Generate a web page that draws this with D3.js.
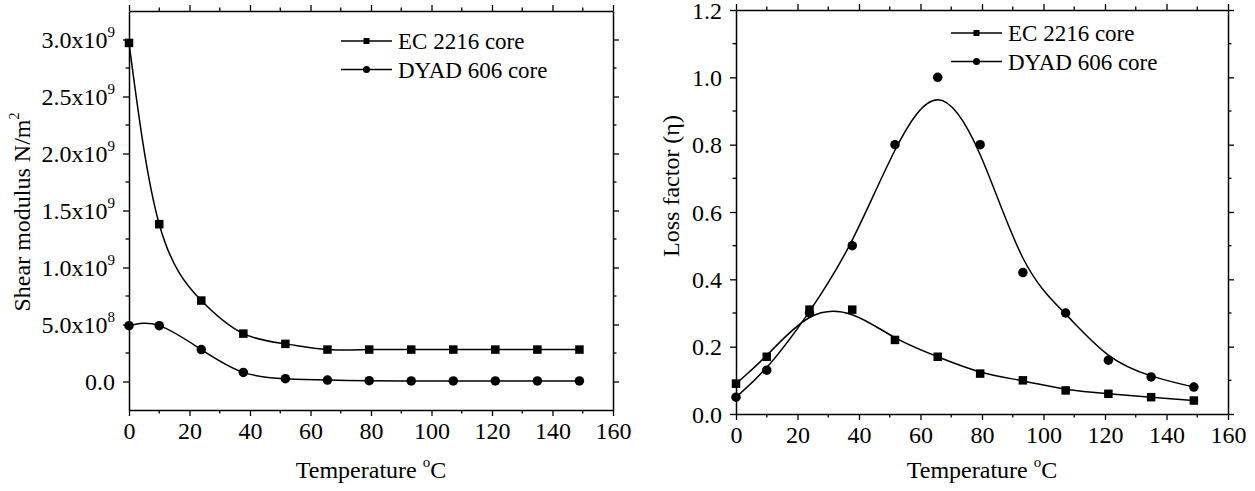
<!DOCTYPE html>
<html>
<head>
<meta charset="utf-8">
<script src="https://cdn.jsdelivr.net/npm/d3@7"></script>
<style>
  html, body { margin: 0; padding: 0; background: #fff; }
  svg { display: block; }
  text { font-family: "Liberation Serif", "Times New Roman", serif; fill: #000; }
</style>
</head>
<body>
<svg id="chart" width="1255" height="491"></svg>
<script>
// Temperatures (°C) at which both cores were measured
const temps = [0, 10, 23.9, 37.8, 51.7, 65.6, 79.4, 93.3, 107.2, 121.1, 135, 148.9];

// Shear modulus (N/m²)
const shearEC   = [2.97e9, 1.38e9, 0.71e9, 0.42e9, 0.33e9, 0.28e9, 0.28e9, 0.28e9, 0.28e9, 0.28e9, 0.28e9, 0.28e9];
const shearDYAD = [0.49e9, 0.49e9, 0.28e9, 0.08e9, 0.025e9, 0.013e9, 0.007e9, 0.005e9, 0.005e9, 0.005e9, 0.005e9, 0.005e9];

// Loss factor (η)
const lossEC   = [0.09, 0.17, 0.31, 0.31, 0.22, 0.17, 0.12, 0.10, 0.07, 0.06, 0.05, 0.04];
const lossDYAD = [0.05, 0.13, 0.30, 0.50, 0.80, 1.00, 0.80, 0.42, 0.30, 0.16, 0.11, 0.08];

const seriesNames = ["EC 2216 core", "DYAD 606 core"];
const markerShapes = ["square", "circle"];

// Tick values and labels
const xTicks = [0, 20, 40, 60, 80, 100, 120, 140, 160];
const shearTicks = [0, 0.5e9, 1.0e9, 1.5e9, 2.0e9, 2.5e9, 3.0e9];
const shearTickLabels = [["0.0", ""], ["5.0x10", "8"], ["1.0x10", "9"], ["1.5x10", "9"], ["2.0x10", "9"], ["2.5x10", "9"], ["3.0x10", "9"]];
const lossTicks = [0, 0.2, 0.4, 0.6, 0.8, 1.0, 1.2];
const lossTickLabels = ["0.0", "0.2", "0.4", "0.6", "0.8", "1.0", "1.2"];

const svg = d3.select("#chart");

function drawMarker(g, shape, x, y, size) {
  if (shape === "square") {
    g.append("rect")
      .attr("x", x - size / 2).attr("y", y - size / 2)
      .attr("width", size).attr("height", size)
      .attr("fill", "#000");
  } else {
    g.append("circle")
      .attr("cx", x).attr("cy", y).attr("r", size / 2 + 0.5)
      .attr("fill", "#000");
  }
}

function styleAxis(g) {
  g.select(".domain").attr("stroke", "#000").attr("stroke-width", 1.5);
  g.selectAll(".tick line").attr("stroke", "#000").attr("stroke-width", 1.3);
}

function panel(cfg) {
  const { left, right, top, bottom } = cfg.box;
  const x = d3.scaleLinear().domain([0, 160]).range([left, right]);
  const y = d3.scaleLinear().domain(cfg.yDomain).range([bottom, top]);
  const g = svg.append("g");

  const xMinor = d3.range(0, 161, 10).filter(v => v % 20 !== 0);
  const yMinor = cfg.yMinor;

  // minor ticks (outward on all four sides)
  const minorG = g.append("g");
  xMinor.forEach(v => {
    minorG.append("line").attr("x1", x(v)).attr("x2", x(v)).attr("y1", bottom).attr("y2", bottom + 3.5);
    minorG.append("line").attr("x1", x(v)).attr("x2", x(v)).attr("y1", top).attr("y2", top - 3.5);
  });
  yMinor.forEach(v => {
    minorG.append("line").attr("x1", left).attr("x2", left - 3.5).attr("y1", y(v)).attr("y2", y(v));
    minorG.append("line").attr("x1", right).attr("x2", right + 3.5).attr("y1", y(v)).attr("y2", y(v));
  });
  minorG.selectAll("line").attr("stroke", "#000").attr("stroke-width", 1.3);

  // bottom axis
  const gx = g.append("g").attr("transform", `translate(0,${bottom})`)
    .call(d3.axisBottom(x).tickValues(xTicks).tickSize(6).tickSizeOuter(0).tickPadding(6));
  styleAxis(gx);
  gx.selectAll("text").attr("font-size", 24).attr("font-family", "Liberation Serif, serif");

  // top and right frame axes, ticks without labels
  const gt = g.append("g").attr("transform", `translate(0,${top})`)
    .call(d3.axisTop(x).tickValues(xTicks).tickSize(6).tickSizeOuter(0).tickFormat(""));
  styleAxis(gt);
  const gr = g.append("g").attr("transform", `translate(${right},0)`)
    .call(d3.axisRight(y).tickValues(cfg.yTicks).tickSize(6).tickSizeOuter(0).tickFormat(""));
  styleAxis(gr);

  // left axis
  const gy = g.append("g").attr("transform", `translate(${left},0)`)
    .call(d3.axisLeft(y).tickValues(cfg.yTicks).tickSize(6).tickSizeOuter(0).tickPadding(8).tickFormat(""));
  styleAxis(gy);
  gy.selectAll(".tick text").each(function (d, i) {
    const t = d3.select(this).attr("font-size", 24).attr("font-family", "Liberation Serif, serif")
      .attr("dy", "0.34em");
    const lab = cfg.yLabels[i];
    if (Array.isArray(lab)) {
      t.append("tspan").text(lab[0]);
      if (lab[1]) t.append("tspan").attr("font-size", 15).attr("dy", "-0.75em").text(lab[1]);
    } else {
      t.text(lab);
    }
  });

  // series
  const line = d3.line().x(d => x(d[0])).y(d => y(d[1])).curve(cfg.curve);
  cfg.series.forEach((vals, si) => {
    const pts = temps.map((t, i) => [t, vals[i]]);
    g.append("path").attr("d", line(pts)).attr("fill", "none")
      .attr("stroke", "#000").attr("stroke-width", 1.5);
    const mg = g.append("g");
    pts.forEach(p => drawMarker(mg, markerShapes[si], x(p[0]), y(p[1]), 8.5));
  });

  // legend
  const lg = g.append("g");
  seriesNames.forEach((name, si) => {
    const ly = cfg.legend.y + si * 28.5;
    lg.append("line").attr("x1", cfg.legend.x).attr("x2", cfg.legend.x + 51)
      .attr("y1", ly).attr("y2", ly).attr("stroke", "#000").attr("stroke-width", 1.5);
    drawMarker(lg, markerShapes[si], cfg.legend.x + 25.5, ly, 6);
    lg.append("text").attr("x", cfg.legend.x + 57).attr("y", ly + 8)
      .attr("font-size", 23).text(name);
  });

  // x title
  const xt = g.append("text").attr("x", (left + right) / 2).attr("y", 478)
    .attr("text-anchor", "middle").attr("font-size", 24);
  xt.append("tspan").text("Temperature ");
  xt.append("tspan").attr("font-size", 15).attr("dy", "-0.75em").text("o");
  xt.append("tspan").attr("dy", "0.47em").text("C");

  // y title
  const yt = g.append("text")
    .attr("transform", `translate(${cfg.yTitle.x},${cfg.yTitle.y}) rotate(-90)`)
    .attr("text-anchor", "middle").attr("font-size", 24);
  cfg.yTitle.parts.forEach(p => {
    const ts = yt.append("tspan").text(p.text);
    if (p.sup) ts.attr("font-size", 14).attr("dy", "-0.8em");
  });
}

panel({
  box: { left: 129, right: 613, top: 11, bottom: 410 },
  yDomain: [-0.25e9, 3.25e9],
  yTicks: shearTicks,
  yLabels: shearTickLabels,
  yMinor: [0.25e9, 0.75e9, 1.25e9, 1.75e9, 2.25e9, 2.75e9],
  series: [shearEC, shearDYAD],
  curve: d3.curveNatural,
  legend: { x: 341, y: 41 },
  yTitle: { x: 30, y: 212, parts: [{ text: "Shear modulus N/m" }, { text: "2", sup: true }] }
});

panel({
  box: { left: 736, right: 1228, top: 10, bottom: 414 },
  yDomain: [0, 1.2],
  yTicks: lossTicks,
  yLabels: lossTickLabels,
  yMinor: [0.1, 0.3, 0.5, 0.7, 0.9, 1.1],
  series: [lossEC, lossDYAD],
  curve: d3.curveBasis,
  legend: { x: 951, y: 33 },
  yTitle: { x: 679, y: 186, parts: [{ text: "Loss factor (η)" }] }
});
</script>
</body>
</html>
